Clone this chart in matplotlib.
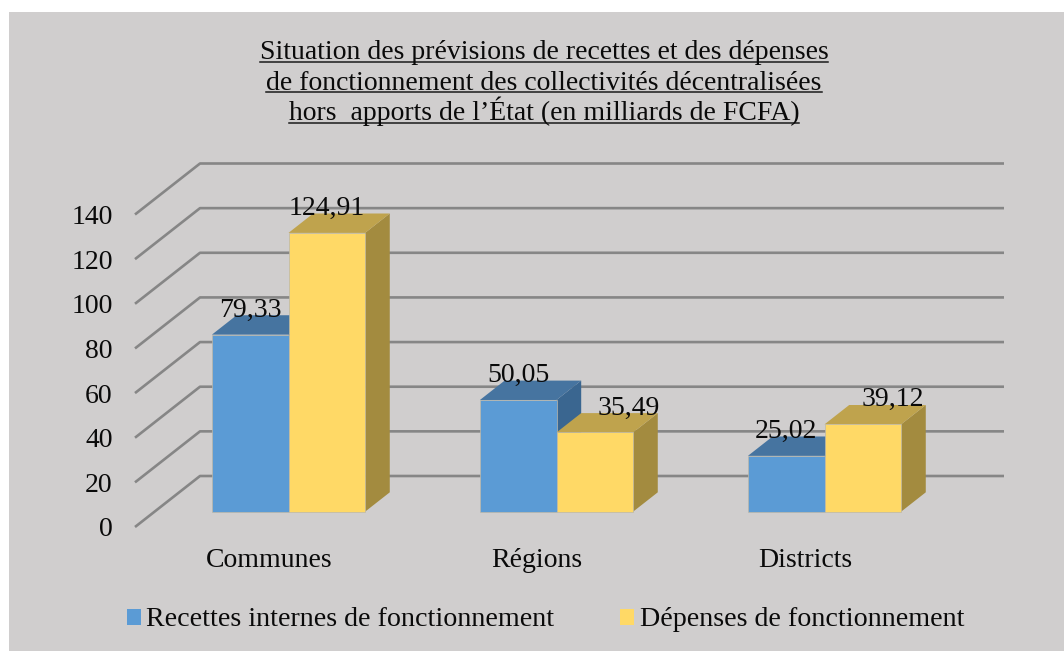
import matplotlib
matplotlib.use("Agg")
import matplotlib.pyplot as plt
from matplotlib.patches import Patch, Polygon, Rectangle

plt.rcParams["font.family"] = ["Liberation Serif", "DejaVu Serif"]

title_lines = [
    "Situation des prévisions de recettes et des dépenses",
    "de fonctionnement des collectivités décentralisées",
    "hors  apports de l’État (en milliards de FCFA)",
]
categories = ["Communes", "Régions", "Districts"]
recettes = [79.33, 50.05, 25.02]
depenses = [124.91, 35.49, 39.12]
value_ticks = [0, 20, 40, 60, 80, 100, 120, 140]
series_names = ["Recettes internes de fonctionnement", "Dépenses de fonctionnement"]

W, H = 1064, 651
BACK = "#D0CECE"
GRID = "#868686"
INK = "#0A0A0A"
FS = 20
# front, top, side
BLUE = ("#5B9BD5", "#4674A0", "#3A6690")
YELLOW = ("#FFD966", "#BFA34D", "#A38B3F")

BAR_W = 0.2857
# oblique depth of the 3D floor, in data units
DX = 65 / 268
DY = 51 / (312.5 / 140)
T0, T1 = 0.30, 0.68


def proj(x, v, t):
    return x + t * DX, v + t * DY


def draw_bar(ax, x, value, colors, z):
    front = [proj(x, 0, T0), proj(x + BAR_W, 0, T0), proj(x + BAR_W, value, T0), proj(x, value, T0)]
    top = [proj(x, value, T0), proj(x + BAR_W, value, T0), proj(x + BAR_W, value, T1), proj(x, value, T1)]
    side = [proj(x + BAR_W, 0, T0), proj(x + BAR_W, 0, T1), proj(x + BAR_W, value, T1), proj(x + BAR_W, value, T0)]
    ax.add_patch(Polygon(side, closed=True, fc=colors[2], ec="none", zorder=z, clip_on=False))
    ax.add_patch(Polygon(top, closed=True, fc=colors[1], ec="none", zorder=z, clip_on=False))
    ax.add_patch(Polygon(front, closed=True, fc=colors[0], ec="#BDB8A8", lw=0.5, zorder=z + 0.1, clip_on=False))


def underlined(fig, text, baseline):
    t = fig.text(544 / W, 1 - baseline / H, text, ha="center", va="baseline", fontsize=FS, color=INK)
    box = t.get_window_extent(fig.canvas.get_renderer())
    fig.add_artist(plt.Line2D([box.x0 / W, box.x1 / W], [1 - (baseline + 2.5) / H] * 2, color="#1A1A1A", lw=1.1))


fig = plt.figure(figsize=(W / 100, H / 100), dpi=100, facecolor="white")
fig.add_artist(Rectangle((9 / W, 0), 1, 1 - 12 / H, transform=fig.transFigure, fc=BACK, ec="none", zorder=-1))

ax = fig.add_axes([135 / W, 1 - 527 / H, 804 / W, 312.5 / H])
ax.patch.set_visible(False)
ax.set_xlim(0, 3)
ax.set_ylim(0, 140)
for s in ax.spines.values():
    s.set_visible(False)

# walls
for v in value_ticks:
    xs = [proj(0, v, 0)[0], proj(0, v, 1)[0], proj(3, v, 1)[0]]
    ys = [proj(0, v, 0)[1], proj(0, v, 1)[1], proj(3, v, 1)[1]]
    ax.plot(xs, ys, color=GRID, lw=1.9, clip_on=False, zorder=1, solid_capstyle="butt")

ax.set_yticks(value_ticks)
ax.set_xticks([0.5, 1.5, 2.5])
ax.set_xticklabels(categories)
ax.tick_params(axis="y", length=0, pad=16, labelsize=FS, labelcolor=INK)
ax.tick_params(axis="x", length=0, pad=15, labelsize=FS, labelcolor=INK)

for i, cat in enumerate(categories):
    left = i + 0.5 - BAR_W
    draw_bar(ax, left, recettes[i], BLUE, 2)
    draw_bar(ax, left + BAR_W, depenses[i], YELLOW, 3)

    # data labels, two of them were moved by hand in the original
    nudges = [0, 34, 30]
    for x, val, nudge in [(left, recettes[i], 0), (left + BAR_W, depenses[i], nudges[i])]:
        px, py = proj(x + BAR_W / 2, val, T0)
        ax.annotate(f"{val:.2f}".replace(".", ","), (px, py), xytext=(nudge * 0.72, 24.5 * 0.72),
                    textcoords="offset points", ha="center", va="center",
                    fontsize=FS, color=INK, zorder=6, annotation_clip=False)

for line, y in zip(title_lines, [59, 89.5, 120.5]):
    underlined(fig, line, y)

handles = [Patch(fc=BLUE[0], ec="none"), Patch(fc=YELLOW[0], ec="none")]
fig.legend(handles, series_names, loc="center", bbox_to_anchor=(545.5 / W, 1 - 620 / H), ncol=2, frameon=False,
           fontsize=20.15, handlelength=0.5, handleheight=0.5, handletextpad=0.2, columnspacing=2.35,
           labelcolor=INK)

fig.savefig("out.png", dpi=100, facecolor="white")
